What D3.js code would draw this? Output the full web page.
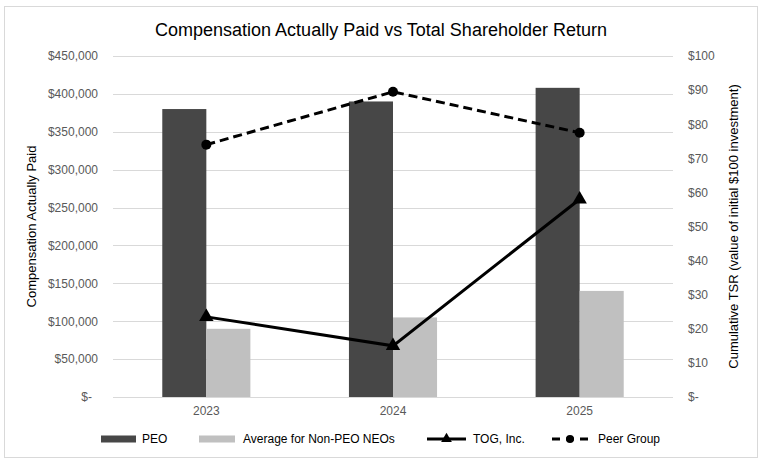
<!DOCTYPE html>
<html>
<head>
<meta charset="utf-8">
<script src="https://cdn.jsdelivr.net/npm/d3@7"></script>
<style>
  body { margin: 0; background: #fff; }
  svg text { font-family: "Liberation Sans", Arial, sans-serif; }
</style>
</head>
<body>
<div id="chart"></div>
<script>
// chart data
const years = ["2023", "2024", "2025"];
const peoCap = [380000, 390000, 408000];
const neoCap = [90000, 105000, 140000];
const togTsr = [23.5, 15, 58];
const peerTsr = [74, 89.5, 77.5];
const leftTicks = [0, 50000, 100000, 150000, 200000, 250000, 300000, 350000, 400000, 450000];
const rightTicks = [0, 10, 20, 30, 40, 50, 60, 70, 80, 90, 100];

const W = 762, H = 462;
const plot = { left: 113, right: 673, top: 56, bottom: 397 };

const svg = d3.select("#chart").append("svg")
    .attr("width", W)
    .attr("height", H);

// chart border
svg.append("rect")
    .attr("x", 4.5).attr("y", 6.5)
    .attr("width", 753).attr("height", 451)
    .attr("fill", "#fff")
    .attr("stroke", "#d9d9d9");

// scales
const x = d3.scaleBand().domain(years).range([plot.left, plot.right]);
const yL = d3.scaleLinear().domain([0, 450000]).range([plot.bottom, plot.top]);
const yR = d3.scaleLinear().domain([0, 100]).range([plot.bottom, plot.top]);
const groupW = x.bandwidth() * 0.472;
const x1 = d3.scaleBand().domain(["peo", "neo"]).range([0, groupW]);

// gridlines
svg.append("g").selectAll("line")
    .data(leftTicks)
    .join("line")
    .attr("x1", plot.left).attr("x2", plot.right)
    .attr("y1", d => Math.round(yL(d)) + 0.5)
    .attr("y2", d => Math.round(yL(d)) + 0.5)
    .attr("stroke", "#d9d9d9");

// left axis
const fmtL = d => d === 0 ? "$-" : "$" + d3.format(",")(d);
const leftAxis = svg.append("g")
    .attr("transform", "translate(" + (plot.left - 15) + ",0)")
    .call(d3.axisLeft(yL).tickValues(leftTicks).tickFormat(fmtL).tickSize(0).tickPadding(0));
leftAxis.select(".domain").remove();
leftAxis.selectAll("text")
    .attr("fill", "#595959")
    .style("font-size", "12px")
    .attr("dx", d => d === 0 ? -6 : 0);

// right axis
const fmtR = d => d === 0 ? "$-" : "$" + d;
const rightAxis = svg.append("g")
    .attr("transform", "translate(" + (plot.right + 15) + ",0)")
    .call(d3.axisRight(yR).tickValues(rightTicks).tickFormat(fmtR).tickSize(0).tickPadding(0));
rightAxis.select(".domain").remove();
rightAxis.selectAll("text")
    .attr("fill", "#595959")
    .style("font-size", "12px");

// x axis labels
const xAxis = svg.append("g")
    .attr("transform", "translate(0," + (plot.bottom + 9) + ")")
    .call(d3.axisBottom(x).tickSize(0).tickPadding(0));
xAxis.select(".domain").remove();
xAxis.selectAll("text")
    .attr("fill", "#595959")
    .style("font-size", "12px");

// bars
const groupX = d => x(d) + (x.bandwidth() - groupW) / 2;
svg.append("g").selectAll("rect")
    .data(years)
    .join("rect")
    .attr("x", d => groupX(d) + x1("peo"))
    .attr("y", (d, i) => yL(peoCap[i]))
    .attr("width", x1.bandwidth())
    .attr("height", (d, i) => yL(0) - yL(peoCap[i]))
    .attr("fill", "#474747");

svg.append("g").selectAll("rect")
    .data(years)
    .join("rect")
    .attr("x", d => groupX(d) + x1("neo"))
    .attr("y", (d, i) => yL(neoCap[i]))
    .attr("width", x1.bandwidth())
    .attr("height", (d, i) => yL(0) - yL(neoCap[i]))
    .attr("fill", "#c0c0c0");

// lines
const cx = d => x(d) + x.bandwidth() / 2;
const lineR = d3.line().x(d => cx(d.year)).y(d => yR(d.v));
const togPts = years.map((yr, i) => ({ year: yr, v: togTsr[i] }));
const peerPts = years.map((yr, i) => ({ year: yr, v: peerTsr[i] }));

svg.append("path")
    .datum(togPts)
    .attr("d", lineR)
    .attr("fill", "none")
    .attr("stroke", "#000")
    .attr("stroke-width", 3);

svg.append("path")
    .datum(peerPts)
    .attr("d", lineR)
    .attr("fill", "none")
    .attr("stroke", "#000")
    .attr("stroke-width", 3)
    .attr("stroke-dasharray", "9,5");

const tri = d3.symbol().type(d3.symbolTriangle).size(90);
svg.append("g").selectAll("path")
    .data(togPts)
    .join("path")
    .attr("d", tri)
    .attr("transform", d => "translate(" + cx(d.year) + "," + yR(d.v) + ")")
    .attr("fill", "#000");

svg.append("g").selectAll("circle")
    .data(peerPts)
    .join("circle")
    .attr("cx", d => cx(d.year))
    .attr("cy", d => yR(d.v))
    .attr("r", 5)
    .attr("fill", "#000");

// title
svg.append("text")
    .attr("x", 381)
    .attr("y", 36)
    .attr("text-anchor", "middle")
    .style("font-size", "18px")
    .attr("fill", "#000")
    .text("Compensation Actually Paid vs Total Shareholder Return");

// axis titles
svg.append("text")
    .attr("transform", "translate(36," + ((plot.top + plot.bottom) / 2) + ") rotate(-90)")
    .attr("text-anchor", "middle")
    .style("font-size", "13px")
    .attr("fill", "#000")
    .text("Compensation Actually Paid");

svg.append("text")
    .attr("transform", "translate(738," + ((plot.top + plot.bottom) / 2) + ") rotate(-90)")
    .attr("text-anchor", "middle")
    .style("font-size", "13px")
    .attr("fill", "#000")
    .text("Cumulative TSR (value of initial $100 investment)");

// legend
const legendY = 439;
const legend = svg.append("g").style("font-size", "12px");

legend.append("rect").attr("x", 101).attr("y", legendY - 3.5).attr("width", 35).attr("height", 7).attr("fill", "#474747");
legend.append("text").attr("x", 142).attr("y", legendY + 4).attr("fill", "#000").text("PEO");

legend.append("rect").attr("x", 199).attr("y", legendY - 3.5).attr("width", 36).attr("height", 7).attr("fill", "#c0c0c0");
legend.append("text").attr("x", 243).attr("y", legendY + 4).attr("fill", "#000").text("Average for Non-PEO NEOs");

legend.append("line").attr("x1", 427).attr("x2", 466).attr("y1", legendY).attr("y2", legendY)
    .attr("stroke", "#000").attr("stroke-width", 3);
legend.append("path").attr("d", d3.symbol().type(d3.symbolTriangle).size(50))
    .attr("transform", "translate(446.5," + legendY + ")");
legend.append("text").attr("x", 473).attr("y", legendY + 4).attr("fill", "#000").text("TOG, Inc.");

legend.append("line").attr("x1", 552).attr("x2", 588).attr("y1", legendY).attr("y2", legendY)
    .attr("stroke", "#000").attr("stroke-width", 3).attr("stroke-dasharray", "8,6");
legend.append("circle").attr("cx", 570).attr("cy", legendY).attr("r", 4);
legend.append("text").attr("x", 598).attr("y", legendY + 4).attr("fill", "#000").text("Peer Group");
</script>
</body>
</html>
